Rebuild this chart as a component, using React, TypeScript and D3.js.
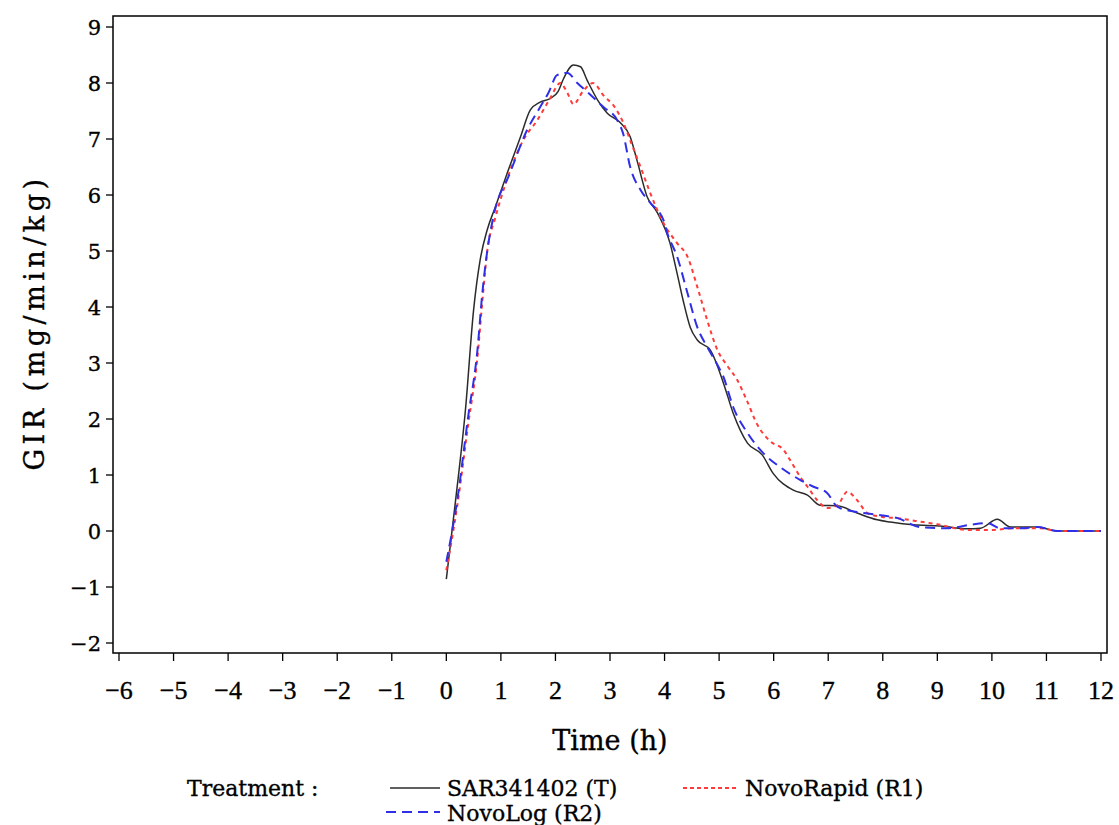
import React from "react";
import * as d3 from "d3";

// time (h) / GIR (mg/min/kg)
const sarX = [0, 0.17, 0.35, 0.5, 0.62, 0.75, 0.9, 1.12, 1.36, 1.54, 1.72, 1.9, 2.05, 2.15, 2.33, 2.46, 2.58, 2.77, 2.95, 3.19, 3.37, 3.5, 3.68, 3.87, 4.1, 4.23, 4.34, 4.47, 4.6, 4.84, 5.08, 5.26, 5.52, 5.79, 5.99, 6.36, 6.62, 6.85, 7.17, 7.53, 7.9, 8.14, 8.56, 9.05, 9.55, 9.79, 10.1, 10.34, 10.83, 11.2, 12];
const sarY = [-0.86, 0.55, 2.16, 3.95, 4.84, 5.38, 5.79, 6.4, 7.04, 7.52, 7.66, 7.72, 7.85, 8.08, 8.32, 8.29, 8.05, 7.7, 7.46, 7.29, 7.04, 6.6, 5.97, 5.68, 5.14, 4.6, 4.12, 3.64, 3.41, 3.23, 2.64, 2.1, 1.57, 1.36, 1.03, 0.73, 0.64, 0.46, 0.45, 0.32, 0.2, 0.16, 0.11, 0.09, 0.04, 0.05, 0.21, 0.07, 0.07, 0.0, 0];

const rapidX = [0, 0.2, 0.4, 0.57, 0.66, 0.75, 0.9, 1.12, 1.41, 1.67, 1.9, 2.09, 2.22, 2.33, 2.51, 2.69, 2.88, 3.1, 3.24, 3.4, 3.56, 3.74, 3.98, 4.23, 4.42, 4.6, 4.78, 4.97, 5.15, 5.33, 5.5, 5.7, 5.94, 6.18, 6.3, 6.49, 6.62, 6.8, 6.98, 7.17, 7.35, 7.53, 7.72, 8.0, 8.27, 8.6, 9.0, 9.55, 10.03, 10.4, 10.9, 11.2, 12];
const rapidY = [-0.7, 0.45, 1.9, 3.1, 4.1, 5.0, 5.6, 6.3, 6.98, 7.34, 7.72, 8.0, 7.82, 7.62, 7.86, 8.0, 7.78, 7.55, 7.3, 6.9, 6.5, 6.03, 5.5, 5.14, 4.9, 4.36, 3.77, 3.23, 2.95, 2.7, 2.35, 1.9, 1.6, 1.45, 1.27, 0.96, 0.79, 0.55, 0.41, 0.46, 0.7, 0.55, 0.32, 0.25, 0.23, 0.18, 0.12, 0.02, 0.02, 0.05, 0.05, 0, 0];

const logX = [0, 0.2, 0.4, 0.57, 0.66, 0.75, 0.86, 1.17, 1.48, 1.72, 1.87, 2.03, 2.22, 2.4, 2.64, 2.88, 3.13, 3.24, 3.37, 3.56, 3.74, 3.98, 4.05, 4.23, 4.42, 4.6, 4.78, 4.99, 5.08, 5.26, 5.52, 5.8, 6.12, 6.49, 6.73, 6.98, 7.17, 7.53, 7.9, 8.27, 8.69, 9.18, 9.6, 9.92, 10.15, 10.52, 10.83, 11.2, 12];
const logY = [-0.55, 0.55, 2.04, 3.23, 4.25, 5.0, 5.6, 6.4, 7.16, 7.57, 7.82, 8.14, 8.18, 8.0, 7.79, 7.57, 7.34, 7.1, 6.5, 6.09, 5.86, 5.55, 5.32, 4.9, 4.25, 3.64, 3.29, 2.93, 2.75, 2.21, 1.75, 1.4, 1.14, 0.91, 0.79, 0.68, 0.43, 0.34, 0.29, 0.23, 0.07, 0.05, 0.11, 0.14, 0.05, 0.05, 0.07, 0, 0];

const xTicks = d3.range(-6, 13);
const yTicks = d3.range(-2, 10);

const series = [
  { name: "SAR341402 (T)", xs: sarX, ys: sarY, color: "#2b2b2b", dash: "none", w: 1.5 },
  { name: "NovoRapid (R1)", xs: rapidX, ys: rapidY, color: "#ff3a3a", dash: "4,4", w: 2 },
  { name: "NovoLog (R2)", xs: logX, ys: logY, color: "#2f2fe8", dash: "10,6", w: 2 },
];

const W = 1119, H = 825;
const font = "'DejaVu Serif', serif";
const heavy = { stroke: "#000", strokeWidth: 0.35 };

export default function App() {
  const x = d3.scaleLinear().domain([-6, 12]).range([119, 1101]);
  const y = d3.scaleLinear().domain([-2, 9]).range([643, 27]);
  const frame = { left: 113, right: 1107, top: 16, bottom: 653 };

  const line = d3.line<[number, number]>()
    .x(d => x(d[0]))
    .y(d => y(d[1]))
    .curve(d3.curveMonotoneX);

  const fmt = (t: number) => (t < 0 ? "\u2212" + Math.abs(t) : String(t));

  return (
    <svg width={W} height={H} style={{ position: "absolute", left: 0, top: 0, background: "#fff" }}>
      <rect x={frame.left} y={frame.top} width={frame.right - frame.left} height={frame.bottom - frame.top}
        fill="none" stroke="#000" strokeWidth={1.5} />

      {/* y axis */}
      {yTicks.map(t => (
        <g key={"y" + t}>
          <line x1={frame.left - 7} x2={frame.left} y1={y(t)} y2={y(t)} stroke="#000" strokeWidth={1.3} />
          <text x={frame.left - 12} y={y(t)} dy="0.36em" textAnchor="end" fontFamily={font} fontSize={21} {...heavy}>
            {fmt(t)}
          </text>
        </g>
      ))}
      <text transform={`translate(44,${(frame.top + frame.bottom) / 2 - 12}) rotate(-90)`} textAnchor="middle"
        fontFamily={font} fontSize={27} letterSpacing={4.5} {...heavy}>
        GIR (mg/min/kg)
      </text>

      {/* x axis */}
      {xTicks.map(t => (
        <g key={"x" + t}>
          <line x1={x(t)} x2={x(t)} y1={frame.bottom} y2={frame.bottom + 8} stroke="#000" strokeWidth={1.3} />
          <text x={x(t)} y={699} textAnchor="middle" fontFamily="'Liberation Serif', serif" fontSize={26} {...heavy}>
            {fmt(t)}
          </text>
        </g>
      ))}
      <text x={610} y={750} textAnchor="middle" fontFamily={font} fontSize={27} {...heavy}>Time (h)</text>

      {/* curves */}
      {series.map(s => (
        <path key={s.name} d={line(s.xs.map((v, i) => [v, s.ys[i]] as [number, number])) || ""}
          fill="none" stroke={s.color} strokeWidth={s.w} strokeDasharray={s.dash} />
      ))}

      {/* legend */}
      <text x={187} y={796} fontFamily={font} fontSize={22} {...heavy}>Treatment :</text>
      <line x1={390} x2={440} y1={788} y2={788} stroke={series[0].color} strokeWidth={1.5} />
      <text x={447} y={796} fontFamily={font} fontSize={22} {...heavy}>{series[0].name}</text>
      <line x1={683} x2={737} y1={788} y2={788} stroke={series[1].color} strokeWidth={2} strokeDasharray="4,3" />
      <text x={745} y={796} fontFamily={font} fontSize={22} {...heavy}>{series[1].name}</text>
      <line x1={386} x2={440} y1={812} y2={812} stroke={series[2].color} strokeWidth={2} strokeDasharray="10,6" />
      <text x={447} y={821} fontFamily={font} fontSize={22} {...heavy}>{series[2].name}</text>
    </svg>
  );
}
